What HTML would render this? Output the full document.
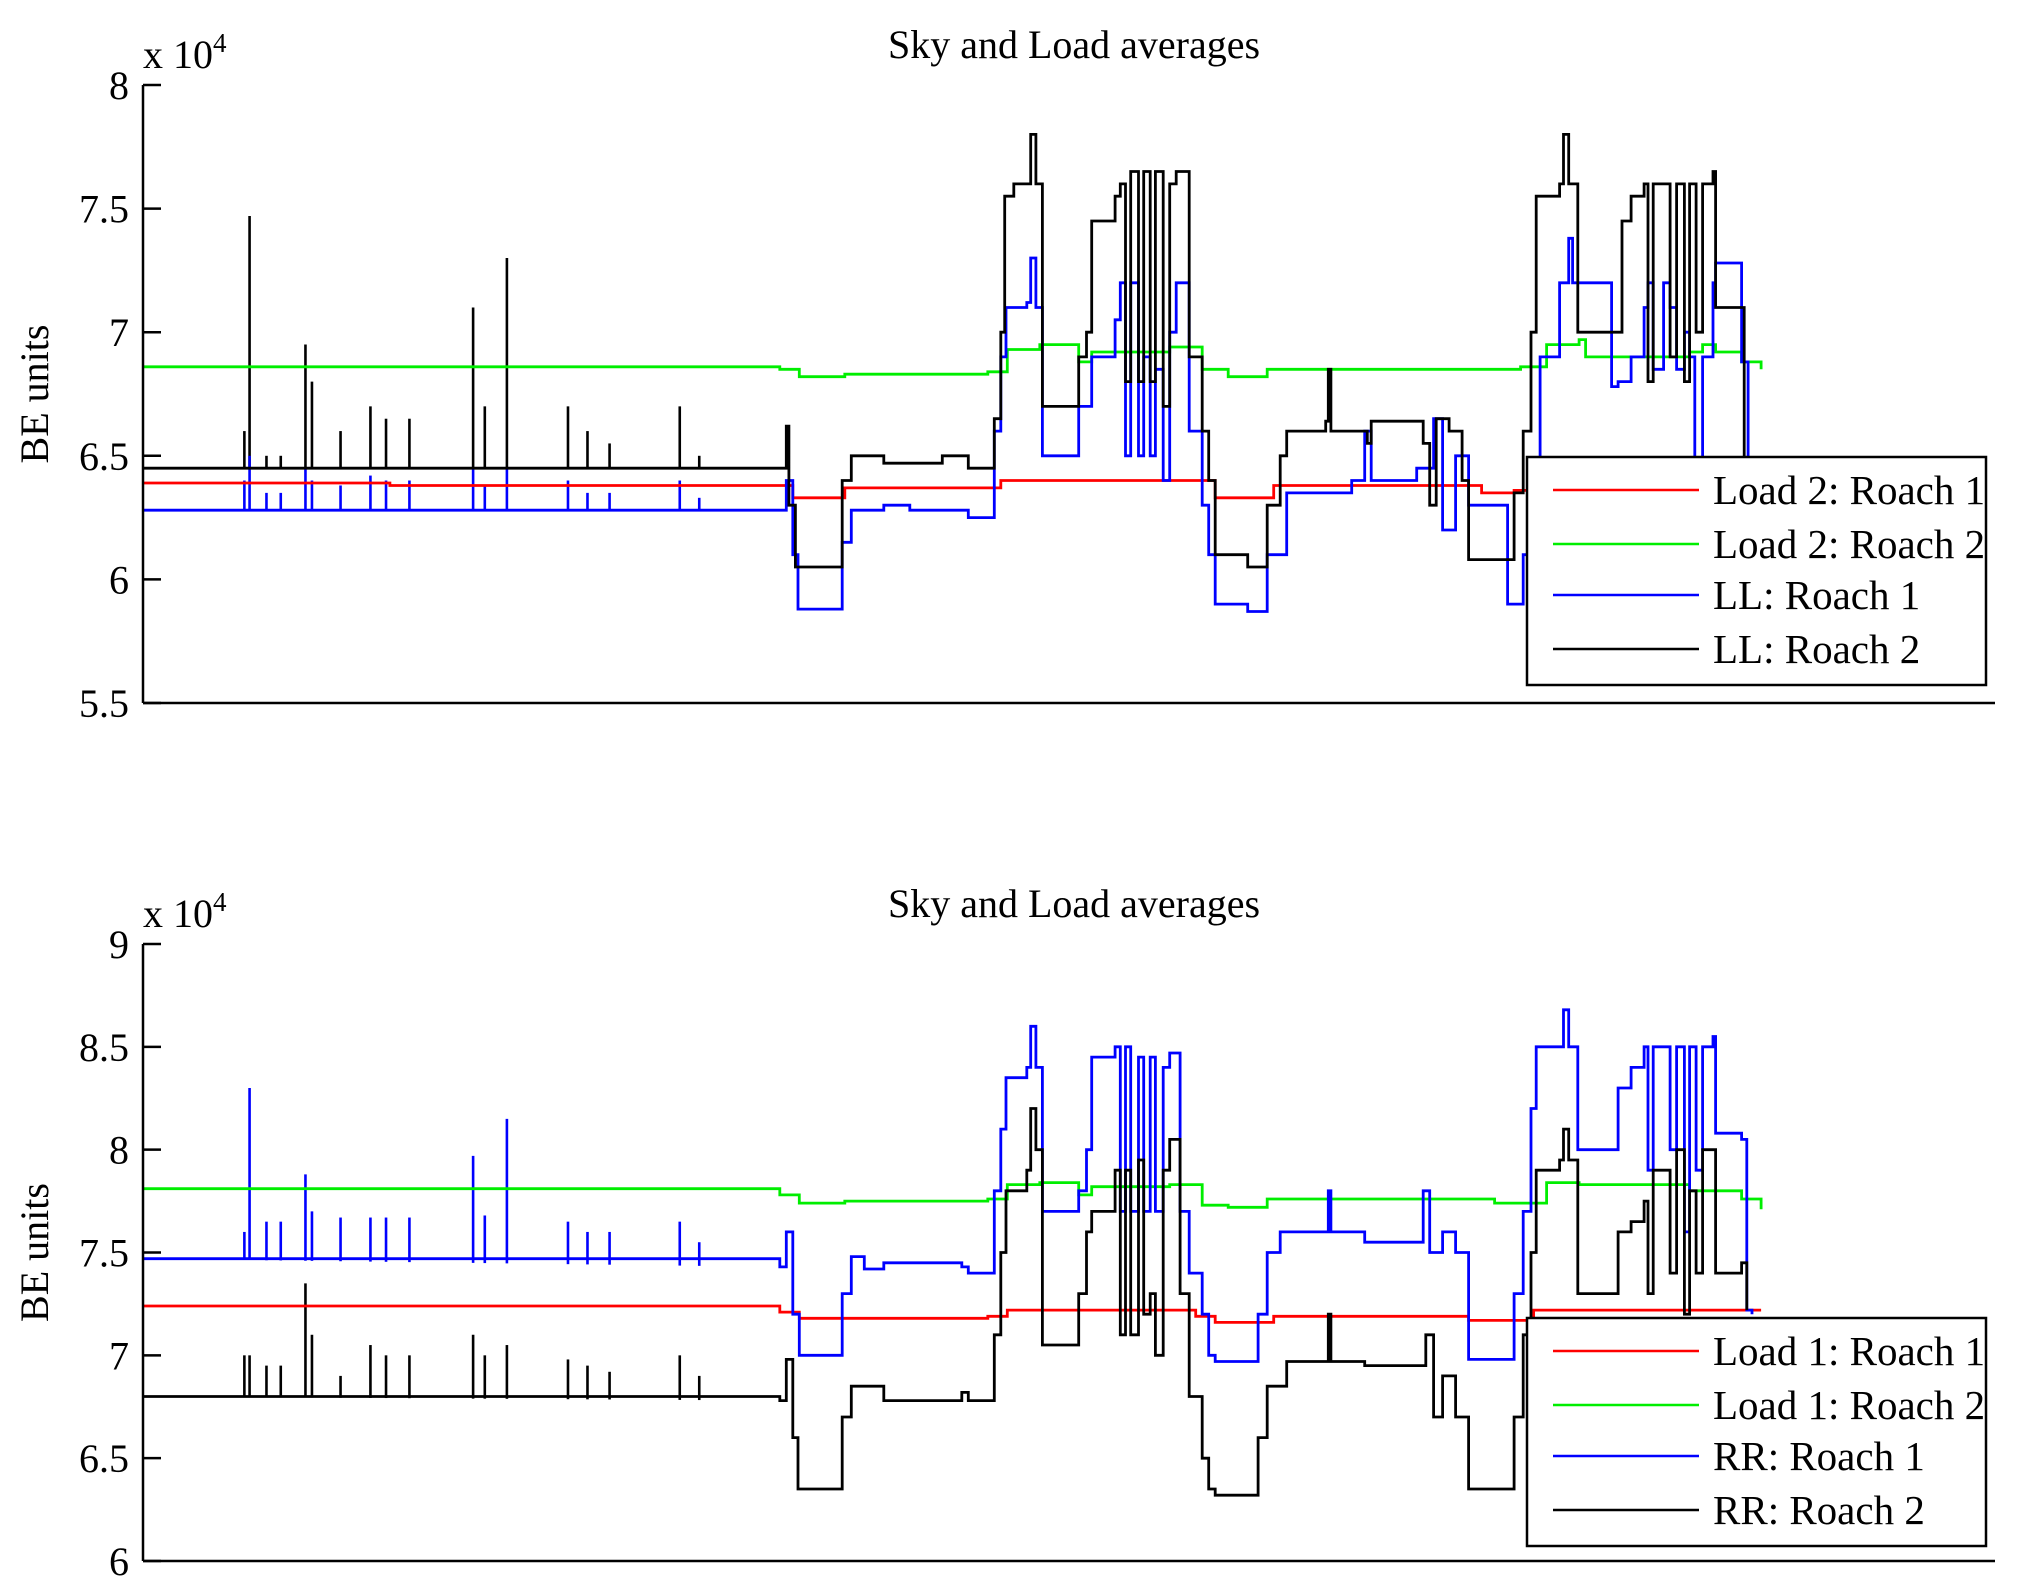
<!DOCTYPE html>
<html><head><meta charset="utf-8"><style>
html,body{margin:0;padding:0;background:#fff;}
svg{display:block;font-family:"Liberation Serif",serif;}
</style></head><body>
<svg id="fig" width="2029" height="1592" viewBox="0 0 2029 1592" xmlns="http://www.w3.org/2000/svg"></svg>
<script>
// Sample index t (0..1425) along x; values in units of 1e4 BE.
const top_red_t=[0,190,490,500,530,540,650,660,810,825,855,870,1020,1030,1055,1070,1245];
const top_red_v=[6.39,6.38,6.38,6.33,6.33,6.37,6.37,6.4,6.4,6.33,6.33,6.38,6.38,6.35,6.36,6.4,6.4];
const top_green_t=[0,490,505,540,650,665,690,720,730,790,815,835,865,1040,1060,1080,1105,1110,1190,1200,1210,1230,1245];
const top_green_v=[6.86,6.85,6.82,6.83,6.84,6.93,6.95,6.88,6.92,6.94,6.85,6.82,6.85,6.85,6.86,6.95,6.97,6.9,6.92,6.95,6.92,6.88,6.85];
const top_blue_t=[0,490,495,500,504,530,538,545,570,590,630,635,650,655,660,664,680,683,687,690,692,715,720,730,748,752,756,760,766,770,775,779,785,790,795,798,805,815,820,825,850,858,865,880,930,935,940,945,980,987,993,1000,1010,1020,1050,1055,1062,1070,1075,1090,1093,1097,1100,1103,1130,1135,1145,1155,1158,1162,1170,1175,1180,1186,1190,1194,1200,1208,1210,1230,1232,1235];
const top_blue_v=[6.28,6.28,6.4,6.1,5.88,5.88,6.15,6.28,6.3,6.28,6.28,6.25,6.25,6.6,6.9,7.1,7.12,7.3,7.1,7.1,6.5,6.5,6.7,6.9,7.05,7.2,6.5,7.2,6.5,6.9,6.5,6.85,6.4,7.0,7.2,7.2,6.6,6.3,6.1,5.9,5.87,5.87,6.1,6.35,6.4,6.4,6.6,6.4,6.45,6.45,6.65,6.2,6.5,6.3,5.9,5.9,6.1,6.4,6.9,7.2,7.2,7.38,7.2,7.2,6.78,6.8,6.9,7.1,7.2,6.85,7.2,7.1,6.85,7.0,6.9,6.45,6.9,7.2,7.28,6.88,6.88,6.45,6.4];
const top_black_t=[0,490,495,497,502,530,538,545,570,610,615,635,650,655,660,663,670,680,683,687,690,692,715,720,726,730,748,752,756,760,766,770,775,779,785,790,795,798,805,815,820,825,850,858,865,875,880,910,912,914,940,942,945,980,985,990,995,1005,1015,1020,1050,1055,1062,1068,1072,1090,1093,1097,1102,1104,1135,1138,1145,1155,1158,1162,1170,1175,1180,1186,1190,1195,1200,1208,1210,1230,1232,1245];
const top_black_v=[6.45,6.45,6.62,6.3,6.05,6.05,6.4,6.5,6.47,6.47,6.5,6.45,6.45,6.65,7.0,7.55,7.6,7.6,7.8,7.6,7.6,6.7,6.7,6.9,7.0,7.45,7.55,7.6,6.8,7.65,6.8,7.65,6.8,7.65,6.7,7.6,7.65,7.65,6.9,6.6,6.4,6.1,6.05,6.05,6.3,6.5,6.6,6.64,6.85,6.6,6.6,6.55,6.64,6.64,6.55,6.3,6.65,6.6,6.4,6.08,6.08,6.35,6.6,7.0,7.55,7.6,7.8,7.6,7.6,7.0,7.0,7.45,7.55,7.6,6.8,7.6,7.6,6.9,7.6,6.8,7.6,7.0,7.6,7.65,7.1,7.1,6.45,6.45];
const top_blackSpike_t=[78,82,95,106,125,130,152,175,187,205,254,263,280,327,342,359,413,428];
const top_blackSpike_v=[6.6,7.47,6.5,6.5,6.95,6.8,6.6,6.7,6.65,6.65,7.1,6.7,7.3,6.7,6.6,6.55,6.7,6.5];
const top_blueSpike_t=[78,82,95,106,125,130,152,175,187,205,254,263,280,327,342,359,413,428];
const top_blueSpike_v=[6.4,6.5,6.35,6.35,6.45,6.4,6.38,6.42,6.4,6.4,6.45,6.38,6.45,6.4,6.35,6.35,6.4,6.33];

const bot_red_t=[0,490,505,650,665,810,825,855,870,1020,1055,1070,1245];
const bot_red_v=[7.24,7.21,7.18,7.19,7.22,7.19,7.16,7.16,7.19,7.17,7.17,7.22,7.22];
const bot_green_t=[0,490,505,540,650,665,690,720,730,790,815,835,865,1040,1060,1080,1105,1190,1230,1245];
const bot_green_v=[7.81,7.78,7.74,7.75,7.76,7.83,7.84,7.78,7.82,7.83,7.73,7.72,7.76,7.74,7.74,7.84,7.83,7.8,7.76,7.71];
const bot_blue_t=[0,490,495,500,505,530,538,545,555,570,630,635,650,655,660,664,680,683,687,690,692,715,720,726,730,748,752,756,760,766,770,775,779,785,790,795,798,805,815,820,825,850,858,865,875,910,912,914,940,980,985,990,1000,1010,1020,1050,1055,1062,1068,1072,1090,1093,1097,1102,1104,1130,1135,1145,1155,1158,1162,1170,1175,1180,1186,1190,1195,1200,1208,1210,1230,1234,1238];
const bot_blue_v=[7.47,7.43,7.6,7.2,7.0,7.0,7.3,7.48,7.42,7.45,7.43,7.4,7.4,7.8,8.1,8.35,8.4,8.6,8.4,8.4,7.7,7.7,7.8,8.0,8.45,8.5,7.7,8.5,7.7,8.45,7.7,8.45,7.7,8.4,8.47,8.47,7.7,7.4,7.2,7.0,6.97,6.97,7.2,7.5,7.6,7.6,7.8,7.6,7.55,7.55,7.8,7.5,7.6,7.5,6.98,6.98,7.3,7.7,8.2,8.5,8.5,8.68,8.5,8.5,8.0,8.0,8.3,8.4,8.5,7.9,8.5,8.5,8.0,8.5,7.6,8.5,7.9,8.5,8.55,8.08,8.05,7.22,7.2];
const bot_black_t=[0,490,495,500,504,530,538,545,570,630,635,650,655,660,664,680,683,687,690,692,715,720,726,730,748,752,756,760,766,770,775,779,785,790,795,798,805,815,820,825,850,858,865,880,910,912,914,940,980,987,993,1000,1010,1020,1050,1055,1062,1068,1072,1090,1093,1097,1102,1104,1130,1135,1145,1155,1158,1162,1170,1175,1180,1186,1190,1195,1200,1208,1210,1230,1234];
const bot_black_v=[6.8,6.78,6.98,6.6,6.35,6.35,6.7,6.85,6.78,6.82,6.78,6.78,7.1,7.5,7.8,7.9,8.2,8.0,8.0,7.05,7.05,7.3,7.6,7.7,7.9,7.1,7.9,7.1,7.95,7.2,7.3,7.0,7.9,8.05,8.05,7.3,6.8,6.5,6.35,6.32,6.32,6.6,6.85,6.97,6.97,7.2,6.97,6.95,6.95,7.1,6.7,6.9,6.7,6.35,6.35,6.7,7.1,7.5,7.9,7.95,8.1,7.95,7.95,7.3,7.3,7.6,7.65,7.75,7.3,7.9,7.9,7.4,8.0,7.2,7.8,7.4,8.0,8.0,7.4,7.45,7.22];
const bot_blueSpike_t=[78,82,95,106,125,130,152,175,187,205,254,263,280,327,342,359,413,428];
const bot_blueSpike_v=[7.6,8.3,7.65,7.65,7.88,7.7,7.67,7.67,7.67,7.67,7.97,7.68,8.15,7.65,7.6,7.6,7.65,7.55];
const bot_blackSpike_t=[78,82,95,106,125,130,152,175,187,205,254,263,280,327,342,359,413,428];
const bot_blackSpike_v=[7.0,7.0,6.95,6.95,7.35,7.1,6.9,7.05,7.0,7.0,7.1,7.0,7.05,6.98,6.95,6.92,7.0,6.9];

const topTicks=[5.5,6,6.5,7,7.5,8];
const botTicks=[6,6.5,7,7.5,8,8.5,9];
const titles=["Sky and Load averages","Sky and Load averages"];
const topLegend=["Load 2: Roach 1","Load 2: Roach 2","LL: Roach 1","LL: Roach 2"];
const botLegend=["Load 1: Roach 1","Load 1: Roach 2","RR: Roach 1","RR: Roach 2"];

const NS="http://www.w3.org/2000/svg";
const svg=document.getElementById('fig');
function mk(tag,attrs,parent){const e=document.createElementNS(NS,tag);for(const k in attrs)e.setAttribute(k,attrs[k]);(parent||svg).appendChild(e);return e;}
const X0=143,X1=1995,T1=1425;
function xs(t){return X0+t*(X1-X0)/T1;}
function interp(ta,va,t){for(let i=1;i<ta.length;i++){if(t<=ta[i]){const f=(t-ta[i-1])/(ta[i]-ta[i-1]);return va[i-1]+f*(va[i]-va[i-1]);}}return va[va.length-1];}

function panel(name,top,bottom,ymin,ymax,ticks,title,series,spikes,legend,legTop){
  const g=mk('g',{});
  
  
  const ys=v=>bottom-(v-ymin)*(bottom-top)/(ymax-ymin);
  const colors=['#ff0000','#00ee00','#0000ff','#000000'];
  spikes.forEach(s=>{
    for(let i=0;i<s.t.length;i++){
      const base=interp(s.bt,s.bv,s.t[i]);
      const l=mk('line',{x1:xs(s.t[i]),x2:xs(s.t[i]),y1:ys(base),y2:ys(s.v[i]),stroke:s.c,'stroke-width':2.6},g);
      
      
    }
  });
  series.forEach((s,k)=>{
    const arr=[];
    for(let i=0;i<s.t.length;i++){
      const x=xs(s.t[i]).toFixed(1);
      if(i>0) arr.push(x+','+ys(s.v[i-1]).toFixed(1));
      arr.push(x+','+ys(s.v[i]).toFixed(1));
    }
    const p=mk('polyline',{points:arr.join(' '),fill:'none',stroke:colors[k],'stroke-width':2.8,'stroke-linejoin':'miter'},g);
    
    
  });
  const ya=mk('line',{x1:X0,x2:X0,y1:top,y2:bottom,stroke:'#000','stroke-width':2.5},g);
  
  
  const xa=mk('line',{x1:X0,x2:X1,y1:bottom,y2:bottom,stroke:'#000','stroke-width':2.5},g);
  
  
  ticks.forEach(v=>{
    mk('line',{x1:X0,x2:X0+18,y1:ys(v),y2:ys(v),stroke:'#000','stroke-width':2.5},g);
    const tx=mk('text',{x:129,y:ys(v)+14,'text-anchor':'end','font-size':40},g);
    tx.textContent=String(v);
    
    
  });
  const ex=mk('text',{x:143,y:top-17,'font-size':40},g);
  ex.innerHTML='x 10<tspan dy="-16" font-size="27">4</tspan>';
  
  
  const tt=mk('text',{x:1074,y:top-27,'text-anchor':'middle','font-size':40},g);
  tt.textContent=title;
  
  
  const yl=mk('text',{x:0,y:0,'text-anchor':'middle','font-size':40,transform:`translate(48,${(top+bottom)/2}) rotate(-90)`},g);
  yl.textContent='BE units';
  
  
  const lg=mk('g',{},g);
  
  
  mk('rect',{x:1527,y:legTop,width:459,height:228,fill:'#fff',stroke:'#000','stroke-width':2.5},lg);
  const ly=[33,87,138,192];
  legend.forEach((txt,k)=>{
    mk('line',{x1:1553,x2:1699,y1:legTop+ly[k],y2:legTop+ly[k],stroke:colors[k],'stroke-width':2.5},lg);
    const t=mk('text',{x:1713,y:legTop+ly[k]+14,'font-size':41},lg);
    t.textContent=txt;
    
    
  });
}

panel('top-panel',85,703,5.5,8,topTicks,titles[0],
 [{t:top_red_t,v:top_red_v},{t:top_green_t,v:top_green_v},{t:top_blue_t,v:top_blue_v},{t:top_black_t,v:top_black_v}],
 [{t:top_blackSpike_t,v:top_blackSpike_v,bt:top_black_t,bv:top_black_v,c:'#000'},{t:top_blueSpike_t,v:top_blueSpike_v,bt:top_blue_t,bv:top_blue_v,c:'#0000ff'}],
 topLegend,457);
panel('bottom-panel',944,1561,6,9,botTicks,titles[1],
 [{t:bot_red_t,v:bot_red_v},{t:bot_green_t,v:bot_green_v},{t:bot_blue_t,v:bot_blue_v},{t:bot_black_t,v:bot_black_v}],
 [{t:bot_blackSpike_t,v:bot_blackSpike_v,bt:bot_black_t,bv:bot_black_v,c:'#000'},{t:bot_blueSpike_t,v:bot_blueSpike_v,bt:bot_blue_t,bv:bot_blue_v,c:'#0000ff'}],
 botLegend,1318);
</script>
</body></html>
